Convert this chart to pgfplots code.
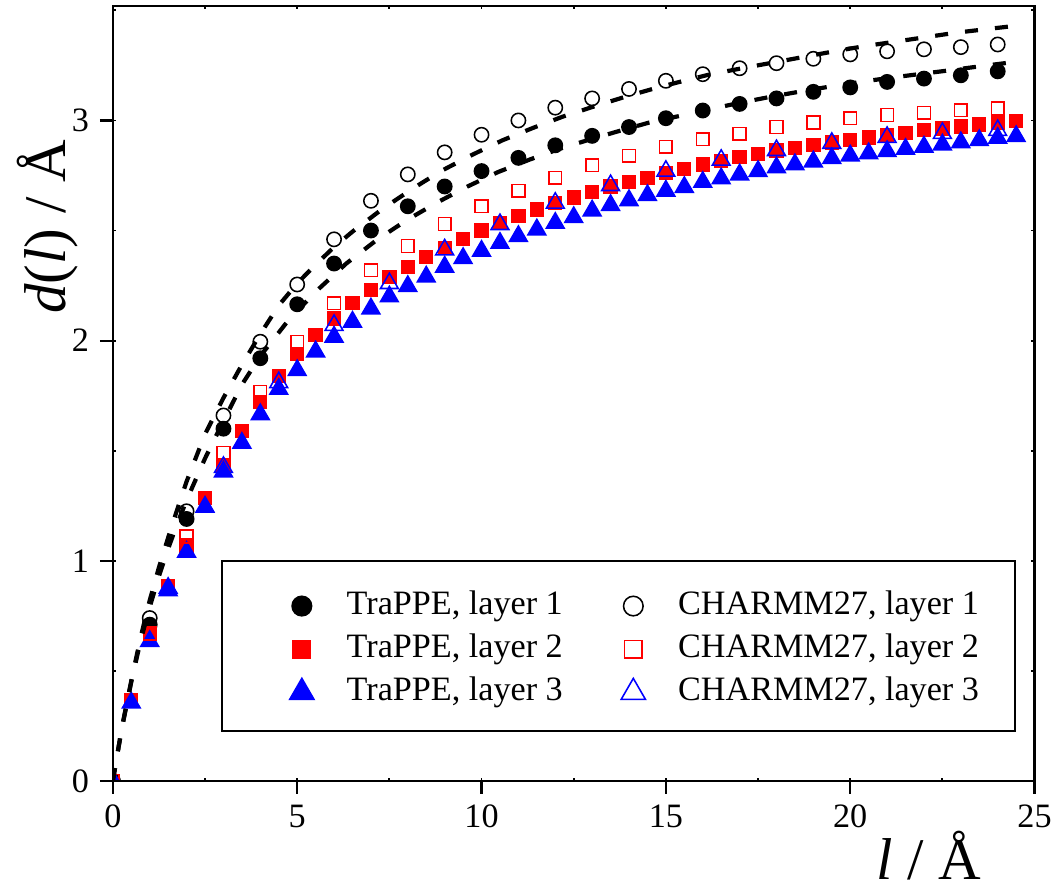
\documentclass[border=0pt]{standalone}
\usepackage{fontspec}
\setmainfont{Liberation Serif}
\usepackage{pgfplots}
\pgfplotsset{compat=1.18}
\usepackage{pgfplotstable}

\pgfplotstableread{
x y
0 0
1 0.71
2 1.19
3 1.60
4 1.92
5 2.165
6 2.35
7 2.50
8 2.61
9 2.70
10 2.77
11 2.83
12 2.887
13 2.93
14 2.97
15 3.01
16 3.045
17 3.075
18 3.10
19 3.13
20 3.15
21 3.175
22 3.19
23 3.205
24 3.223
}\tone

\pgfplotstableread{
x y
0 0
1 0.74
2 1.225
3 1.66
4 1.995
5 2.255
6 2.46
7 2.635
8 2.755
9 2.855
10 2.935
11 3.00
12 3.058
13 3.10
14 3.143
15 3.18
16 3.21
17 3.237
18 3.26
19 3.28
20 3.30
21 3.314
22 3.323
23 3.333
24 3.345
}\cone

\pgfplotstableread{
x y
0 0
0.5 0.365
1 0.67
1.5 0.885
2 1.07
2.5 1.285
3 1.43
3.5 1.59
4 1.72
4.5 1.84
5 1.94
5.5 2.025
6 2.10
6.5 2.17
7 2.23
7.5 2.29
8 2.335
8.5 2.38
9 2.42
9.5 2.46
10 2.50
10.5 2.535
11 2.565
11.5 2.595
12 2.625
12.5 2.65
13 2.675
13.5 2.70
14 2.72
14.5 2.74
15 2.76
15.5 2.78
16 2.80
16.5 2.815
17 2.834
17.5 2.846
18 2.864
18.5 2.876
19 2.888
19.5 2.90
20 2.91
20.5 2.923
21 2.934
21.5 2.944
22 2.955
22.5 2.964
23 2.973
23.5 2.982
24 2.99
24.5 2.997
}\ttwo

\pgfplotstableread{
x y
0 0
1 0.67
2 1.11
3 1.49
4 1.767
5 1.994
6 2.17
7 2.32
8 2.43
9 2.53
10 2.61
11 2.68
12 2.74
13 2.796
14 2.84
15 2.88
16 2.915
17 2.94
18 2.97
19 2.99
20 3.01
21 3.025
22 3.035
23 3.046
24 3.056
}\ctwo

\pgfplotstableread{
x y
0 0
0.5 0.355
1 0.635
1.5 0.865
2 1.04
2.5 1.245
3 1.405
3.5 1.535
4 1.665
4.5 1.78
5 1.865
5.5 1.95
6 2.017
6.5 2.085
7 2.145
7.5 2.20
8 2.247
8.5 2.29
9 2.335
9.5 2.374
10 2.407
10.5 2.443
11 2.474
11.5 2.504
12 2.534
12.5 2.56
13 2.59
13.5 2.615
14 2.637
14.5 2.66
15 2.68
15.5 2.697
16 2.72
16.5 2.736
17 2.754
17.5 2.769
18 2.786
18.5 2.80
19 2.813
19.5 2.828
20 2.84
20.5 2.85
21 2.86
21.5 2.87
22 2.88
22.5 2.89
23 2.90
23.5 2.91
24 2.92
24.5 2.928
}\tthree

\pgfplotstableread{
x y
0 0
1.5 0.876
3 1.425
4.5 1.81
6 2.07
7.5 2.26
9 2.413
10.5 2.528
12 2.625
13.5 2.705
15 2.77
16.5 2.82
18 2.864
19.5 2.897
21 2.924
22.5 2.942
24 2.955
}\cthree

\pgfplotstableread{
x y
0 0
0.1 0.1
0.25 0.245
0.5 0.455
0.75 0.65
1.0 0.82
1.25 0.97
1.5 1.105
1.75 1.235
2.0 1.36
2.5 1.575
3.0 1.74
3.5 1.89
4.0 2.03
4.5 2.16
5.0 2.26
5.5 2.345
6.0 2.425
6.5 2.495
7.31 2.598
8.13 2.69
8.90 2.77
9.76 2.845
10.57 2.91
11.38 2.965
12.2 3.017
13.06 3.064
13.87 3.106
14.68 3.145
15.44 3.178
16.17 3.208
17.16 3.24
17.98 3.265
18.79 3.29
19.6 3.315
20.41 3.338
21.23 3.358
22.04 3.378
22.85 3.398
23.66 3.414
24.5 3.43
}\fitc

\pgfplotstableread{
x y
0 0
0.1 0.1
0.25 0.245
0.5 0.45
0.75 0.635
1.0 0.79
1.25 0.93
1.5 1.055
1.75 1.17
2.0 1.275
2.5 1.465
3.0 1.635
3.5 1.80
4.0 1.93
4.75 2.09
5.52 2.225
6.33 2.35
7.14 2.455
7.95 2.545
8.77 2.625
9.62 2.70
10.44 2.765
11.3 2.822
12.1 2.87
12.87 2.91
13.69 2.95
14.54 2.99
15.36 3.02
16.17 3.05
17.0 3.08
17.8 3.106
18.6 3.13
19.42 3.153
20.28 3.175
21.05 3.193
21.9 3.211
22.67 3.227
23.48 3.245
24.43 3.265
}\fitt

\begin{document}
\begin{tikzpicture}
\begin{axis}[
  scale only axis, width=10.43cm, height=8.77cm,
  xmin=0, xmax=25, ymin=0, ymax=3.52,
  xtick={0,5,...,25}, ytick={0,1,2,3},
  xtick pos=bottom, ytick pos=left,
  tick align=outside, major tick length=0.147cm,
  tick style={line width=0.7pt, black},
  axis line style={line width=0.7pt},
  ticklabel style={font=\fontsize{11}{13}\selectfont},
  /pgf/number format/assume math mode=true,
  clip marker paths=true,
  legend columns=3, transpose legend, legend cell align=left,
  every legend image post/.append style={/tikz/every mark/.append style={scale=1.37}},
  legend style={at={(rel axis cs:0.1912,0.170)}, anchor=west,
    draw=none, fill=none, font=\fontsize{11}{13}\selectfont,
    inner xsep=0pt, inner ysep=0pt, row sep=1pt,
    /tikz/every odd column/.append style={column sep=0.3cm},
    /tikz/every even column/.append style={column sep=0.59cm},
    nodes={inner ysep=1.2pt, text height=8pt, text depth=2.5pt}},
]
\draw[line width=0.7pt, fill=white] (rel axis cs:0.118,0.064) rectangle (rel axis cs:0.979,0.284);
\addplot[only marks, mark=*, mark size=2.3pt, black, line width=0.5pt] table {\tone};
\addlegendentry{TraPPE, layer 1}
\addplot[only marks, mark=square*, mark size=2.05pt, red, line width=0.5pt] table {\ttwo};
\addlegendentry{TraPPE, layer 2}
\addplot[only marks, mark=triangle*, mark size=3.3pt, blue, line width=0.5pt] table {\tthree};
\addlegendentry{TraPPE, layer 3}
\addplot[only marks, mark=o, mark size=2.3pt, black, line width=0.5pt] table {\cone};
\addlegendentry{CHARMM27, layer 1}
\addplot[only marks, mark=square, mark size=2.05pt, red, line width=0.5pt, mark options={fill=white}] table {\ctwo};
\addlegendentry{CHARMM27, layer 2}
\addplot[only marks, mark=triangle, mark size=3.3pt, blue, line width=0.5pt, mark options={fill=white}] table {\cthree};
\addlegendentry{CHARMM27, layer 3}
\addplot[black, line width=1.35pt, dash pattern=on 4.2pt off 5.5pt, no marks, forget plot] table {\fitc};
\addplot[black, line width=1.35pt, dash pattern=on 4.2pt off 5.5pt, no marks, forget plot] table {\fitt};
\end{axis}
\begin{axis}[
  scale only axis, width=10.43cm, height=8.77cm,
  xmin=0, xmax=25, ymin=0, ymax=3.52,
  xtick={0,2.5,...,25}, ytick={0,0.5,...,3.5},
  xticklabels={}, yticklabels={},
  tick align=inside, major tick length=1.1pt,
  xtick pos=both, ytick pos=both,
  tick style={line width=0.6pt, black},
  axis line style={line width=0.7pt},
  clip=false,
]
\node[rotate=90, anchor=base, font=\fontsize{19}{22}\selectfont] at ([xshift=-0.54cm]rel axis cs:0,0.715) {\textit{d}(\textit{l}) / Å};
\node[anchor=base, font=\fontsize{19}{22}\selectfont] at ([yshift=-1.12cm]rel axis cs:0.885,0) {\textit{l} / Å};
\end{axis}
\path ([shift={(-1.277cm,-1.243cm)}]current axis.south west) rectangle ([shift={(0.294cm,0.0565cm)}]current axis.north east);
\end{tikzpicture}
\end{document}
